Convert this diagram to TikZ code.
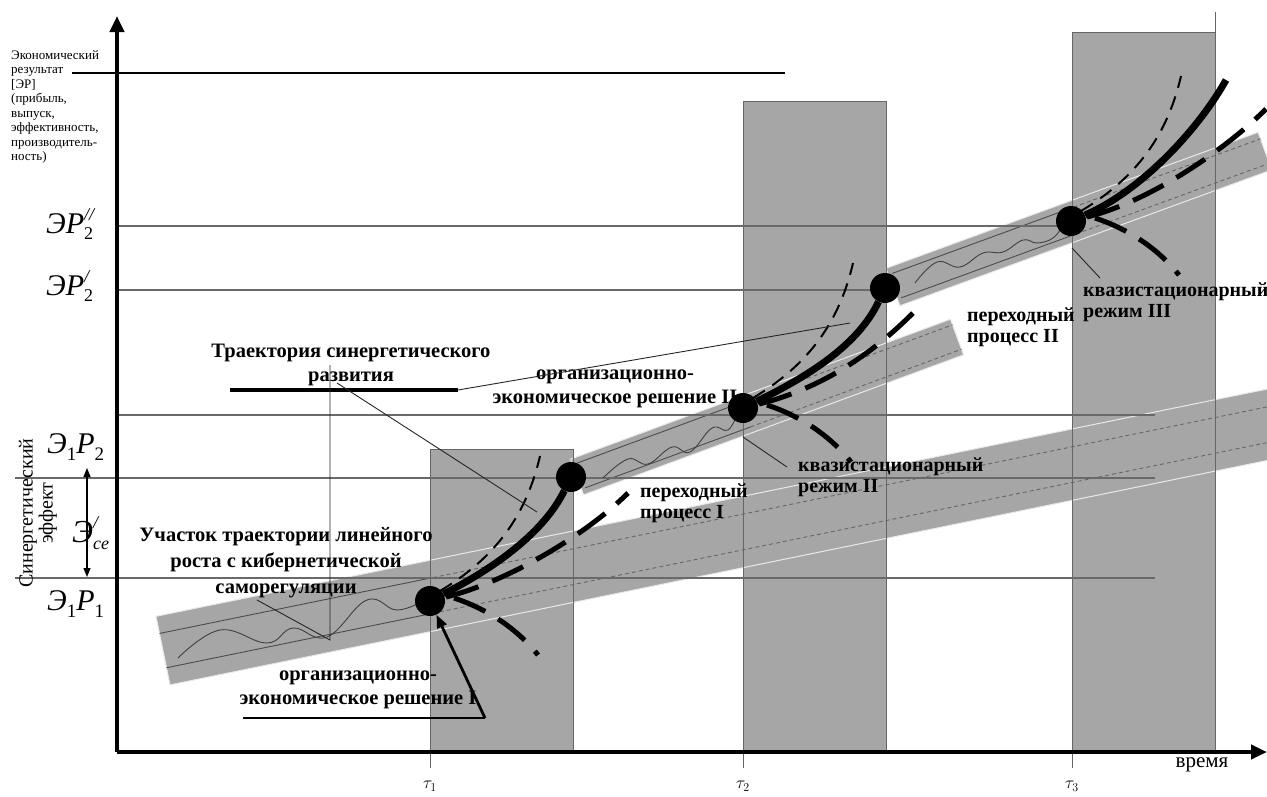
\documentclass[tikz,border=0pt]{standalone}
\usepackage{fontspec}
\setmainfont{Liberation Serif}
\usetikzlibrary{arrows.meta}
\definecolor{barfill}{RGB}{166,166,166}
\definecolor{gridgray}{RGB}{105,105,105}
\newcommand{\supsub}[2]{\rlap{\raisebox{-0.22em}{\fontsize{18}{18}\selectfont #1}}\raisebox{0.42em}{\fontsize{18}{18}\selectfont #2}}
\newcommand{\lowidx}[1]{\raisebox{-0.25em}{\fontsize{19}{19}\selectfont\upshape #1}}
\begin{document}
\begin{tikzpicture}[x=1pt, y=-1pt,
    arrowaxis/.style={line width=4pt, -{Triangle[length=16pt,width=14pt]}},
    hline/.style={gridgray, line width=1.4pt},
    bar/.style={fill=barfill},
    baredge/.style={black!60, line width=0.9pt},
    band/.style={fill=barfill, draw=white!75!barfill, line width=1pt},
    inner/.style={black!70, line width=0.9pt},
    innerdash/.style={black!60, line width=0.9pt, dash pattern=on 4pt off 3pt},
    wave/.style={black!75, line width=0.9pt},
    dot/.style={circle, fill=black, minimum size=30pt, inner sep=0pt},
    trans/.style={line width=7pt},
    fast/.style={line width=2pt, dash pattern=on 14pt off 9pt},
    slow/.style={line width=5pt, dash pattern=on 34pt off 15pt},
    fall/.style={line width=5pt, dash pattern=on 34pt off 15pt on 34pt off 15pt on 5pt off 60pt},
    leader/.style={black!85, line width=0.9pt},
    lbl/.style={font=\fontsize{20.5}{24}\selectfont\bfseries, align=center, inner sep=0pt},
    lblL/.style={font=\fontsize{20}{21}\selectfont\bfseries, align=left, inner sep=0pt, anchor=west},
    val/.style={inner sep=0pt, anchor=base west},
  ]
  \useasboundingbox (0,0) rectangle (1267,796);
  \clip (0,0) rectangle (1267,796);

  \foreach \x/\t in {430/449, 743/101, 1072/32}
    \fill[bar] (\x,\t) rectangle (\x+143,752);

  % linear growth band
  \begin{scope}[shift={(163,650.6)}, rotate=11.56]
    \fill[band] (0,-35) rectangle (1160,35);
    \draw[inner] (0,-17.5) -- (272,-17.5) (0,17.5) -- (272,17.5);
    \draw[innerdash] (272,-17.5) -- (1160,-17.5) (272,17.5) -- (1160,17.5);
  \end{scope}
  \begin{scope}[shift={(577,477)}, rotate=20.22]
    \fill[band] (0,-19) rectangle (405,19);
    \draw[inner] (4,-13) -- (180,-13) (4,13) -- (180,13);
    \draw[innerdash] (180,-13) -- (405,-13) (180,13) -- (405,13);
  \end{scope}
  \begin{scope}[shift={(893,287)}, rotate=20.08]
    \fill[band] (0,-20) rectangle (396,20);
    \draw[inner] (4,-13) -- (190,-13) (4,13) -- (190,13);
    \draw[innerdash] (190,-13) -- (396,-13) (190,13) -- (396,13);
  \end{scope}

  \draw[hline] (117,226) -- (1060,226);
  \draw[hline] (117,290) -- (875,290);
  \draw[hline] (117,415) -- (1155,415);
  \draw[hline] (15,478) -- (1155,478);
  \draw[hline] (15,578) -- (1155,578);

  \foreach \x/\t/\n in {430/449/1, 743/101/2, 1072/32/3} {
    \draw[baredge] (\x,768) -- (\x,\t) -- (\x+143,\t) -- (\x+143,752);
    \node[font=\fontsize{17}{17}\selectfont] (tau\n) at (\x,786) {$\tau_{\n}$};
  }
  \draw[baredge] (1215,32) -- (1215,12);

  \draw[wave] plot[smooth, tension=0.7] coordinates {(178,658) (220,630) (267,643) (293,628) (327,637) (367,600) (397,610) (425,600)};
  \draw[wave] plot[smooth, tension=0.7] coordinates {(603,478) (628,459) (648,464) (672,447) (690,452) (712,428) (728,430) (738,412)};
  \draw[wave] plot[smooth, tension=0.7] coordinates {(915,283) (937,262) (960,267) (983,253) (1003,252) (1023,240) (1037,243) (1053,238) (1064,224)};

  \draw[line width=2.5pt] (72,73) -- (785,73);
  \draw[arrowaxis] (117,752) -- (117,16);
  \draw[arrowaxis] (117,752) -- (1267,752);

  \node[dot] (d1) at (430,601) {};
  \node[dot] (d2) at (571,477) {};
  \node[dot] (d3) at (743,408) {};
  \node[dot] (d4) at (885,288) {};
  \node[dot] (d5) at (1071,221) {};
  \coordinate (end3) at (1226,80);

  \foreach \d/\lx/\ly in {d1/198/-108, d3/170/-95, d5/195/-112} {
    \begin{scope}[shift={(\d)}]
      \draw[fast] (10,-10) .. controls (60,-40) and (95,-80) .. (110,-145);
      \draw[slow] (16,-4) .. controls (80,-20) and (\lx-40,\ly+40) .. (\lx,\ly);
      \draw[fall] (24,-3) .. controls (57,8) and (90,28) .. (114,62);
    \end{scope}
  }
  \draw[trans] (d1) .. controls +(70,-36) and +(-26,53) .. (d2);
  \draw[trans] (d3) .. controls +(70,-34) and +(-26,55) .. (d4);
  \draw[trans] (d5) .. controls +(70,-30) and +(-28,50) .. (end3);

  \node[font=\fontsize{13}{14.5}\selectfont, align=left, anchor=north west, inner sep=0pt] (erlabel) at (11,50)
    {Экономический\\результат\\{}[ЭР]\\(прибыль,\\выпуск,\\эффективность,\\производитель-\\ность)};
  \node[val, font=\fontsize{30}{30}\selectfont\itshape] (er2b) at (46,233) {ЭP\supsub{\upshape 2}{//}};
  \node[val, font=\fontsize{30}{30}\selectfont\itshape] (er2a) at (46,295) {ЭP\supsub{\upshape 2}{/}};
  \node[val, font=\fontsize{30}{30}\selectfont\itshape] (e1p2) at (47,453) {Э\lowidx{1}P\lowidx{2}};
  \node[val, font=\fontsize{30}{30}\selectfont\itshape] (e1p1) at (47,610) {Э\lowidx{1}P\lowidx{1}};
  \node[val, font=\fontsize{32}{32}\selectfont\itshape] (ece) at (72,542) {Э\supsub{ce}{/}};
  \coordinate (ecetop) at (87,468);
  \coordinate (ecebot) at (87,577);
  \draw[{Triangle[length=9pt,width=7pt]}-{Triangle[length=9pt,width=7pt]}, line width=1.2pt] (ecetop) -- (ecebot);
  \node[font=\fontsize{20}{20}\selectfont, align=center, rotate=90, inner sep=0pt] (syn) at (38,513) {Синергетический\\эффект};

  \node[lbl] (traj) at (351,365) {Траектория синергетического\\развития};
  \node[lbl, font=\fontsize{20.5}{26}\selectfont\bfseries] (linear) at (286,563) {Участок траектории линейного\\роста с кибернетической\\саморегуляции};
  \node[lbl] (dec1) at (358,690) {организационно-\\экономическое решение I};
  \node[lbl] (dec2) at (615,389) {организационно-\\экономическое решение II};
  \node[lblL] (tr1) at (640,503) {переходный\\процесс I};
  \node[lblL] (qs2) at (798,477) {квазистационарный\\режим II};
  \node[lblL] (tr2) at (967,327) {переходный\\процесс II};
  \node[lblL] (qs3) at (1083,302) {квазистационарный\\режим III};
  \node[font=\fontsize{21}{21}\selectfont, inner sep=0pt] (time) at (1202,765) {время};

  \coordinate (trajL) at (230,390);
  \coordinate (trajR) at (458,390);
  \coordinate (trajT) at (850,323);
  \coordinate (trajS) at (337,383);
  \coordinate (trajU) at (537,512);
  \coordinate (linT) at (330,365);
  \coordinate (linM) at (330,640);
  \coordinate (linS) at (257,600);
  \coordinate (dec1L) at (243,718);
  \coordinate (dec1R) at (485,718);
  \coordinate (qs2a) at (743,437);
  \coordinate (qs2b) at (787,467);
  \coordinate (qs3a) at (1072,248);
  \coordinate (qs3b) at (1100,278);
  \draw[line width=3.5pt] (trajL) -- (trajR);
  \draw[leader] (trajR) -- (trajT);
  \draw[leader] (trajS) -- (trajU);
  \draw[leader] (linT) -- (linM) -- (linS);
  \draw[line width=1.5pt] (dec1L) -- (dec1R);
  \draw[line width=2.8pt, -{Triangle[length=13pt,width=10pt]}] (dec1R) -- (d1);
  \draw[leader] (qs2a) -- (qs2b);
  \draw[leader] (qs3a) -- (qs3b);
\end{tikzpicture}
\end{document}
